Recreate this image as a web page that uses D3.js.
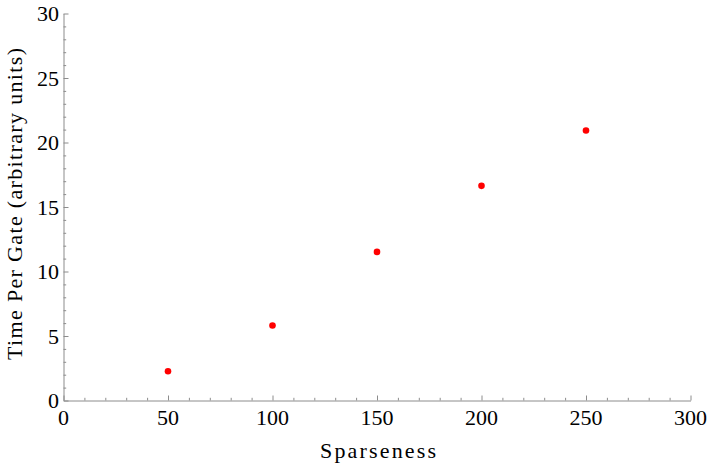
<!DOCTYPE html>
<html><head><meta charset="utf-8">
<script src="https://cdn.jsdelivr.net/npm/d3@7"></script>
<style>body{margin:0;background:#fff}svg{display:block}</style>
</head><body>
<script>
const sparseness = [50, 100, 150, 200, 250];
const timePerGate = [2.27, 5.81, 11.52, 16.64, 20.93];
const xMajorTicks = [0, 50, 100, 150, 200, 250, 300];
const yMajorTicks = [0, 5, 10, 15, 20, 25, 30];
const xLabel = "Sparseness";
const yLabel = "Time Per Gate (arbitrary units)";

const W = 708, H = 466;
const svg = d3.select("body").append("svg").attr("width", W).attr("height", H);
const x = d3.scaleLinear().domain([0, 300]).range([63.5, 690.5]);
const y = d3.scaleLinear().domain([0, 30]).range([400.5, 13.5]);
const axisColor = "#8c8c8c";
const FONT = '"Liberation Serif", "Times New Roman", Times, serif';

const xMinor = d3.range(0, 301, 10).filter(v => v % 50 !== 0);
const yMinor = d3.range(0, 31, 1).filter(v => v % 5 !== 0);

// x axis
const gx = svg.append("g").attr("transform", `translate(0,${y(0)})`);
gx.call(d3.axisBottom(x).tickValues(xMajorTicks).tickSize(-5).tickSizeOuter(0).tickFormat(""));
gx.append("g").call(d3.axisBottom(x).tickValues(xMinor).tickSize(-2.7).tickSizeOuter(0).tickFormat(""))
  .select(".domain").remove();
// y axis
const gy = svg.append("g").attr("transform", `translate(${x(0)},0)`);
gy.call(d3.axisLeft(y).tickValues(yMajorTicks).tickSize(-5).tickSizeOuter(0).tickFormat(""));
gy.append("g").call(d3.axisLeft(y).tickValues(yMinor).tickSize(-2.7).tickSizeOuter(0).tickFormat(""))
  .select(".domain").remove();
svg.selectAll(".domain, .tick line").attr("stroke", axisColor).attr("stroke-width", 1);

// tick labels
svg.append("g").selectAll("text").data(xMajorTicks).join("text")
  .attr("x", d => x(d)).attr("y", 425).attr("text-anchor", "middle")
  .style("font-family", FONT).style("font-size", "22px").attr("fill", "#000").text(d => d);
svg.append("g").selectAll("text").data(yMajorTicks).join("text")
  .attr("x", 59).attr("y", d => y(d) + 7.5).attr("text-anchor", "end")
  .style("font-family", FONT).style("font-size", "22px").attr("fill", "#000").text(d => d);

// titles
svg.append("text").attr("x", 378).attr("y", 458).attr("text-anchor", "middle")
  .style("font-family", FONT).style("font-size", "22px")
  .attr("textLength", 116).attr("lengthAdjust", "spacing")
  .text(xLabel);
svg.append("text").attr("transform", "translate(22,204) rotate(-90)").attr("text-anchor", "middle")
  .style("font-family", FONT).style("font-size", "22px")
  .attr("textLength", 312).attr("lengthAdjust", "spacing")
  .text(yLabel);

// points
svg.append("g").selectAll("circle").data(sparseness.map((s, i) => [s, timePerGate[i]])).join("circle")
  .attr("cx", d => x(d[0])).attr("cy", d => y(d[1])).attr("r", 3.3).attr("fill", "#ff0000");
</script>
</body></html>
